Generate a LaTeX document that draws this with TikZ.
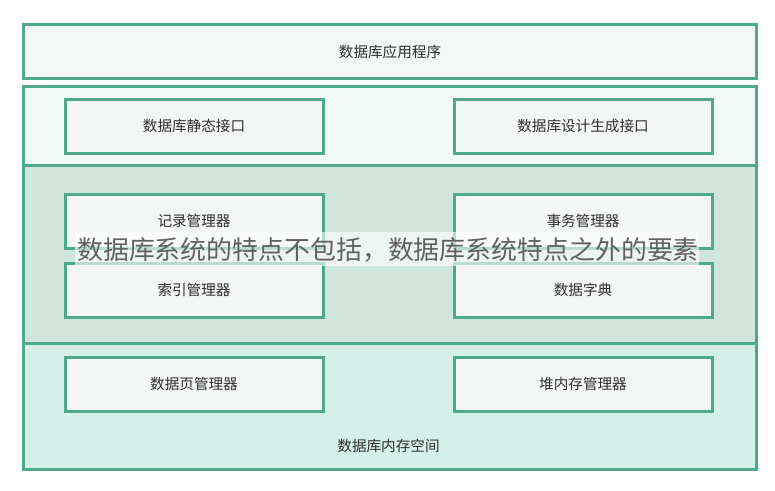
\documentclass[tikz,border=0pt]{standalone}
\usepackage{fontspec}
\newfontfamily\cjk{Noto Sans CJK SC}
\definecolor{edge}{HTML}{4FAA8B}
\definecolor{paleA}{HTML}{F3F7F6}
\definecolor{paleB}{HTML}{F1F8F6}
\definecolor{midC}{HTML}{D0E6DD}
\definecolor{lowD}{HTML}{D3F0E9}
\definecolor{boxF}{HTML}{F4F6F6}
\definecolor{txt}{HTML}{2E2E2E}
\tikzset{
  panel/.style={draw=edge, line width=3pt},
  inbox/.style={draw=edge, line width=3pt, fill=boxF, minimum width=258pt, minimum height=54pt, inner sep=0pt, font=\cjk\fontsize{14.6}{16}\selectfont, text=txt},
  lbl/.style={font=\cjk\fontsize{14.6}{16}\selectfont, text=txt, inner sep=0pt},
}
\begin{document}
\begin{tikzpicture}[x=1pt,y=-1pt]
\useasboundingbox (0,0) rectangle (775,490);
\fill[white] (0,0) rectangle (775,490);
% top box
\node[panel, fill=paleA, minimum width=733pt, minimum height=54pt, inner sep=0pt, anchor=north west] (app) at (22,23) {};
\node[lbl] (appt) at (app.center) {数据库应用程序};
% outer sections
\fill[paleB] (22,85) rectangle (755,165);
\fill[midC] (22,165) rectangle (755,343);
\fill[lowD] (22,343) rectangle (755,468);
\draw[panel] (22,165) -- (755,165);
\draw[panel] (22,343) -- (755,343);
\node[panel, minimum width=733pt, minimum height=383pt, inner sep=0pt, anchor=north west] (outer) at (22,85) {};
% inner boxes
\node[inbox] (s1) at (194,126) {数据库静态接口};
\node[inbox] (s2) at (583,126) {数据库设计生成接口};
\node[inbox] (r1) at (194,221) {记录管理器};
\node[inbox] (r2) at (583,221) {事务管理器};
\node[inbox] (i1) at (194,290) {索引管理器};
\node[inbox] (i2) at (583,290) {数据字典};
\node[inbox] (p1) at (194,384) {数据页管理器};
\node[inbox] (p2) at (583,384) {堆内存管理器};
\node[lbl] (mem) at (388.5,446) {数据库内存空间};
% overlay caption
\fill[white, opacity=0.6] (75,232) rectangle (699,266);
\node[font=\cjk\fontsize{25.9}{28}\selectfont, text=black!62, inner sep=0pt, anchor=west] (cap) at (77,250) {数据库系统的特点不包括，数据库系统特点之外的要素};
\end{tikzpicture}
\end{document}
